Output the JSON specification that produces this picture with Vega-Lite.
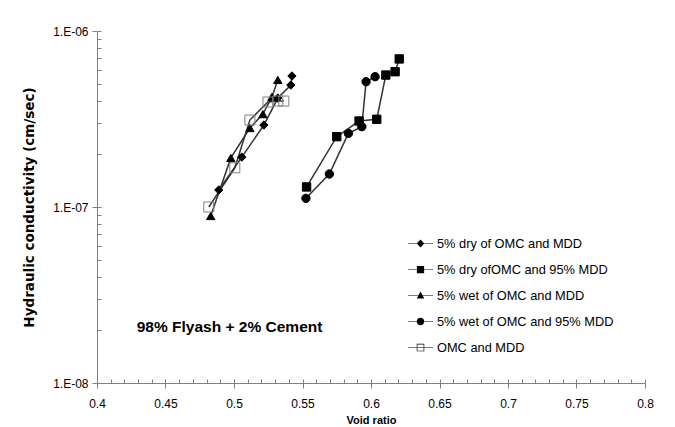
{
  "$schema": "https://vega.github.io/schema/vega-lite/v6.json",
  "width": 548,
  "height": 352,
  "autosize": {"type": "none"},
  "padding": {"left": 97, "top": 31, "right": 30, "bottom": 44},
  "background": "white",
  "config": {"font": "Liberation Sans", "view": {"stroke": null}},
  "data": {
    "values": [
      {"series": "5% dry of OMC and MDD", "idx": 1, "e": 0.4889, "k": 1.25e-7},
      {"series": "5% dry of OMC and MDD", "idx": 2, "e": 0.5057, "k": 1.92e-7},
      {"series": "5% dry of OMC and MDD", "idx": 3, "e": 0.5218, "k": 2.92e-7},
      {"series": "5% dry of OMC and MDD", "idx": 4, "e": 0.5320, "k": 4.16e-7},
      {"series": "5% dry of OMC and MDD", "idx": 5, "e": 0.5415, "k": 4.93e-7},
      {"series": "5% dry of OMC and MDD", "idx": 6, "e": 0.5423, "k": 5.55e-7},
      {"series": "5% dry ofOMC and 95% MDD", "idx": 1, "e": 0.5530, "k": 1.30e-7},
      {"series": "5% dry ofOMC and 95% MDD", "idx": 2, "e": 0.5750, "k": 2.51e-7},
      {"series": "5% dry ofOMC and 95% MDD", "idx": 3, "e": 0.5913, "k": 3.08e-7},
      {"series": "5% dry ofOMC and 95% MDD", "idx": 4, "e": 0.6042, "k": 3.15e-7},
      {"series": "5% dry ofOMC and 95% MDD", "idx": 5, "e": 0.6108, "k": 5.62e-7},
      {"series": "5% dry ofOMC and 95% MDD", "idx": 6, "e": 0.6176, "k": 5.87e-7},
      {"series": "5% dry ofOMC and 95% MDD", "idx": 7, "e": 0.6206, "k": 6.94e-7},
      {"series": "5% wet of OMC and MDD", "idx": 1, "e": 0.4830, "k": 8.89e-8},
      {"series": "5% wet of OMC and MDD", "idx": 2, "e": 0.4977, "k": 1.90e-7},
      {"series": "5% wet of OMC and MDD", "idx": 3, "e": 0.5116, "k": 2.81e-7},
      {"series": "5% wet of OMC and MDD", "idx": 4, "e": 0.5211, "k": 3.37e-7},
      {"series": "5% wet of OMC and MDD", "idx": 5, "e": 0.5277, "k": 4.22e-7},
      {"series": "5% wet of OMC and MDD", "idx": 6, "e": 0.5320, "k": 5.27e-7},
      {"series": "5% wet of OMC and 95% MDD", "idx": 1, "e": 0.5525, "k": 1.12e-7},
      {"series": "5% wet of OMC and 95% MDD", "idx": 2, "e": 0.5696, "k": 1.54e-7},
      {"series": "5% wet of OMC and 95% MDD", "idx": 3, "e": 0.5835, "k": 2.62e-7},
      {"series": "5% wet of OMC and 95% MDD", "idx": 4, "e": 0.5933, "k": 2.86e-7},
      {"series": "5% wet of OMC and 95% MDD", "idx": 5, "e": 0.5964, "k": 5.15e-7},
      {"series": "5% wet of OMC and 95% MDD", "idx": 6, "e": 0.6030, "k": 5.50e-7},
      {"series": "OMC and MDD", "idx": 1, "e": 0.4816, "k": 1.00e-7},
      {"series": "OMC and MDD", "idx": 2, "e": 0.5006, "k": 1.67e-7},
      {"series": "OMC and MDD", "idx": 3, "e": 0.5116, "k": 3.12e-7},
      {"series": "OMC and MDD", "idx": 4, "e": 0.5248, "k": 3.95e-7},
      {"series": "OMC and MDD", "idx": 5, "e": 0.5320, "k": 4.00e-7},
      {"series": "OMC and MDD", "idx": 6, "e": 0.5364, "k": 4.00e-7}
    ]
  },
  "layer": [
    {
      "mark": {"type": "line", "color": "#333333", "strokeWidth": 1.5},
      "encoding": {
        "x": {
          "field": "e", "type": "quantitative",
          "scale": {"domain": [0.4, 0.8], "nice": false, "zero": false},
          "axis": {
            "orient": "bottom",
            "values": [0.4, 0.45, 0.5, 0.55, 0.6, 0.65, 0.7, 0.75, 0.8],
            "format": ".2~f",
            "grid": false,
            "domainColor": "#808080",
            "tickColor": "#808080",
            "tickSize": 5,
            "labelFontSize": 12,
            "labelColor": "#000000",
            "labelPadding": 10,
            "labelFlush": false,
            "title": "Void ratio",
            "titleFontSize": 11,
            "titleFontWeight": "bold",
            "titleColor": "#000000",
            "titlePadding": 5
          }
        },
        "y": {
          "field": "k", "type": "quantitative",
          "scale": {"type": "log", "domain": [1e-8, 1e-6], "nice": false},
          "axis": {
            "orient": "left",
            "values": [1e-8, 1e-7, 1e-6],
            "labelExpr": "'1.E-0' + round(-log(datum.value) / LN10)",
            "grid": false,
            "domainColor": "#808080",
            "tickColor": "#808080",
            "tickSize": 5,
            "labelFontSize": 12,
            "labelColor": "#000000",
            "labelPadding": 4,
            "labelFlush": false,
            "title": "Hydraulic conductivity (cm/sec)",
            "titleFont": "DejaVu Sans",
            "titleFontSize": 13.5,
            "titleFontWeight": "bold",
            "titleColor": "#000000",
            "titlePadding": 16
          }
        },
        "detail": {"field": "series"},
        "order": {"field": "idx", "type": "quantitative"}
      }
    },
    {
      "mark": {"type": "point", "opacity": 1, "strokeWidth": 1},
      "encoding": {
        "x": {
          "field": "e", "type": "quantitative",
          "scale": {"domain": [0.4, 0.8], "nice": false, "zero": false},
          "axis": {
            "orient": "bottom",
            "values": [0.4, 0.41, 0.42, 0.43, 0.44, 0.45, 0.46, 0.47, 0.48, 0.49, 0.5, 0.51, 0.52, 0.53, 0.54, 0.55, 0.56, 0.57, 0.58, 0.59, 0.6, 0.61, 0.62, 0.63, 0.64, 0.65, 0.66, 0.67, 0.68, 0.69, 0.7, 0.71, 0.72, 0.73, 0.74, 0.75, 0.76, 0.77, 0.78, 0.79, 0.8],
            "labels": false,
            "domain": false,
            "grid": false,
            "tickColor": "#808080",
            "tickSize": -4,
            "title": null
          }
        },
        "y": {
          "field": "k", "type": "quantitative",
          "scale": {"type": "log", "domain": [1e-8, 1e-6], "nice": false},
          "axis": {
            "orient": "left",
            "values": [1e-8, 2e-8, 3e-8, 4e-8, 5e-8, 6e-8, 7e-8, 8e-8, 9e-8, 1e-7, 2e-7, 3e-7, 4e-7, 5e-7, 6e-7, 7e-7, 8e-7, 9e-7, 1e-6],
            "labels": false,
            "domain": false,
            "grid": false,
            "tickColor": "#808080",
            "tickSize": -4,
            "title": null
          }
        },
        "shape": {
          "field": "series", "type": "nominal",
          "scale": {
            "domain": ["5% dry of OMC and MDD", "5% dry ofOMC and 95% MDD", "5% wet of OMC and MDD", "5% wet of OMC and 95% MDD", "OMC and MDD"],
            "range": ["diamond", "square", "triangle-up", "circle", "square"]
          },
          "legend": null
        },
        "fill": {
          "field": "series", "type": "nominal",
          "scale": {
            "domain": ["5% dry of OMC and MDD", "5% dry ofOMC and 95% MDD", "5% wet of OMC and MDD", "5% wet of OMC and 95% MDD", "OMC and MDD"],
            "range": ["black", "black", "black", "black", "transparent"]
          },
          "legend": null
        },
        "stroke": {
          "field": "series", "type": "nominal",
          "scale": {
            "domain": ["5% dry of OMC and MDD", "5% dry ofOMC and 95% MDD", "5% wet of OMC and MDD", "5% wet of OMC and 95% MDD", "OMC and MDD"],
            "range": ["black", "black", "black", "black", "#7f7f7f"]
          },
          "legend": null
        },
        "size": {
          "condition": {"test": "datum.series === 'OMC and MDD'", "value": 100},
          "value": 70
        }
      }
    },
    {
      "mark": {"type": "point", "opacity": 0, "filled": true, "color": "black", "strokeWidth": 1},
      "encoding": {
        "x": {"field": "e", "type": "quantitative", "scale": {"domain": [0.4, 0.8], "nice": false, "zero": false}, "axis": null},
        "y": {"field": "k", "type": "quantitative", "scale": {"type": "log", "domain": [1e-8, 1e-6], "nice": false}, "axis": null},
        "shape": {
          "field": "series", "type": "nominal",
          "scale": {
            "domain": ["5% dry of OMC and MDD", "5% dry ofOMC and 95% MDD", "5% wet of OMC and MDD", "5% wet of OMC and 95% MDD", "OMC and MDD"],
            "range": [
              "M-1,-0.025H1V0.025H-1ZM0,-0.32L0.3,0L0,0.32L-0.3,0Z",
              "M-1,-0.025H1V0.025H-1ZM-0.29,-0.29H0.29V0.29H-0.29Z",
              "M-1,-0.025H1V0.025H-1ZM0,-0.32L0.3,0.24H-0.3Z",
              "M-1,-0.025H1V0.025H-1ZM0.3,0A0.3,0.3,0,1,1,-0.3,0A0.3,0.3,0,1,1,0.3,0Z",
              "M-1,-0.025H1V0.025H-1ZM-0.3,-0.3H0.3V0.3H-0.3ZM-0.25,-0.25V0.25H0.25V-0.25Z"
            ]
          },
          "legend": {
            "orient": "none",
            "legendX": 311,
            "legendY": 200,
            "title": null,
            "symbolSize": 625,
            "symbolStrokeWidth": 0,
            "symbolOpacity": 1,
            "symbolFillColor": "black",
            "labelFontSize": 12.8,
            "labelColor": "#000000",
            "labelOffset": 4,
            "labelLimit": 400,
            "rowPadding": 6
          }
        }
      }
    },
    {
      "data": {"values": [{"label": "98% Flyash + 2% Cement", "e": 0.429, "k": 2.08e-8}]},
      "mark": {"type": "text", "align": "left", "baseline": "middle", "fontWeight": "bold", "fontSize": 15.5, "color": "#000000"},
      "encoding": {
        "x": {"field": "e", "type": "quantitative", "scale": {"domain": [0.4, 0.8], "nice": false, "zero": false}, "axis": null},
        "y": {"field": "k", "type": "quantitative", "scale": {"type": "log", "domain": [1e-8, 1e-6], "nice": false}, "axis": null},
        "text": {"field": "label"}
      }
    }
  ],
  "resolve": {"axis": {"x": "independent", "y": "independent"}, "scale": {"shape": "independent"}}
}
